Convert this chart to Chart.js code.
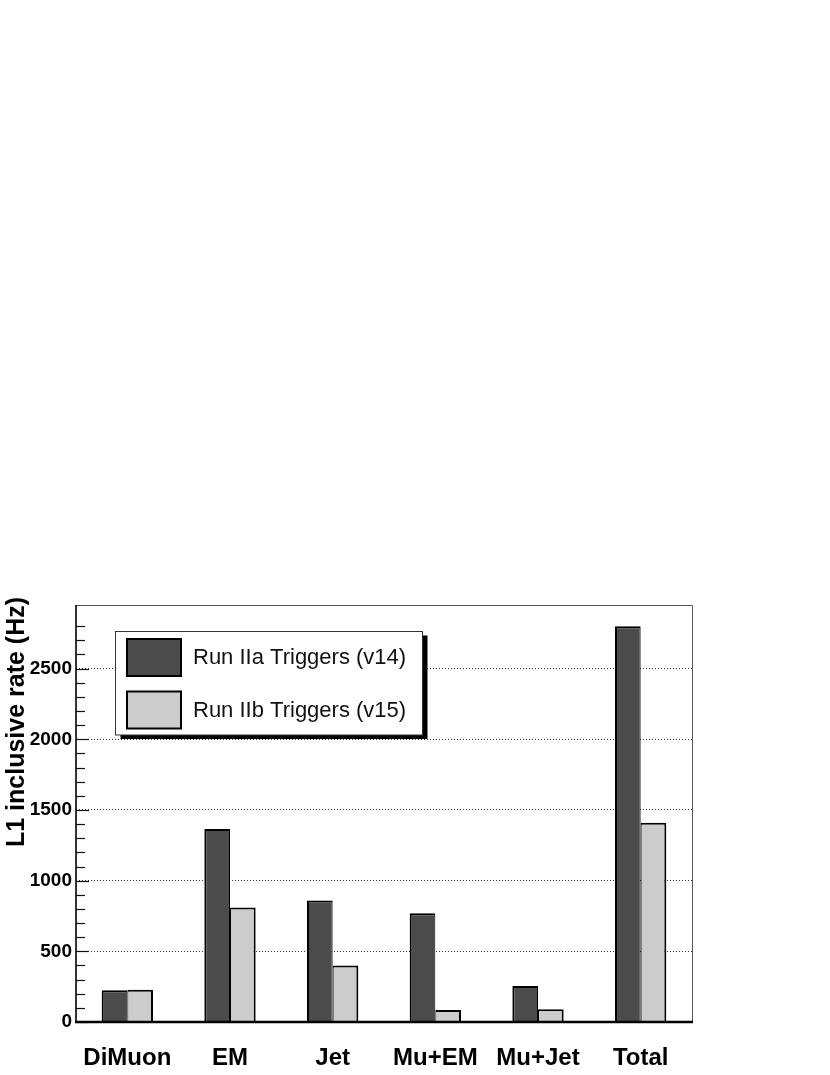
<!DOCTYPE html>
<html>
<head>
<meta charset="utf-8">
<script src="https://cdn.jsdelivr.net/npm/chart.js@4.4.1/dist/chart.umd.min.js"></script>
<style>
  html, body { margin: 0; padding: 0; background: #ffffff; }
  canvas { display: block; }
</style>
</head>
<body>
<canvas id="c" width="830" height="1075"></canvas>
<script>
// ---- data ----
const categories = ["DiMuon", "EM", "Jet", "Mu+EM", "Mu+Jet", "Total"];
const runIIa = [225, 1365, 860, 770, 255, 2800];
const runIIb = [228, 810, 400, 85, 90, 1410];
const seriesLabels = ["Run IIa Triggers (v14)", "Run IIb Triggers (v15)"];
const yTitle = "L1 inclusive rate (Hz)";
const yMax = 2950;
const yMajorStep = 500;
const yMinorStep = 100;

const FONT = '"Liberation Sans", Arial, Helvetica, sans-serif';

const framePlugin = {
  id: 'framePlugin',
  afterDatasetsDraw(chart) {
    const ctx = chart.ctx;
    const a = chart.chartArea;
    const ys = chart.scales.y;
    ctx.save();
    // inner minor / major ticks on left axis
    ctx.strokeStyle = '#111';
    ctx.lineWidth = 1.2;
    ys.ticks.forEach(t => {
      if (t.value % yMinorStep !== 0) return;
      const py = Math.round(ys.getPixelForValue(t.value)) + 0.5;
      const len = (t.value % yMajorStep === 0) ? 13 : 9;
      ctx.beginPath();
      ctx.moveTo(a.left, py);
      ctx.lineTo(a.left + len, py);
      ctx.stroke();
    });
    // frame
    ctx.strokeStyle = '#555';
    ctx.lineWidth = 1;
    ctx.beginPath();
    ctx.moveTo(a.left, a.top + 0.5);
    ctx.lineTo(a.right + 0.5, a.top + 0.5);
    ctx.lineTo(a.right + 0.5, a.bottom);
    ctx.stroke();
    ctx.strokeStyle = '#000';
    ctx.lineWidth = 1.6;
    ctx.beginPath();
    ctx.moveTo(a.left, a.top);
    ctx.lineTo(a.left, a.bottom);
    ctx.stroke();
    ctx.lineWidth = 2.4;
    ctx.beginPath();
    ctx.moveTo(a.left - 1, a.bottom);
    ctx.lineTo(a.right + 1, a.bottom);
    ctx.stroke();

    // legend box with shadow
    const lx = 115.5, ly = 631.5, lw = 307, lh = 103.5;
    ctx.fillStyle = '#000';
    ctx.fillRect(lx + 5, ly + 4, lw, lh);
    ctx.fillStyle = '#fff';
    ctx.fillRect(lx, ly, lw, lh);
    ctx.strokeStyle = '#333';
    ctx.lineWidth = 1;
    ctx.strokeRect(lx, ly, lw, lh);
    const rows = [657, 709.5];
    chart.data.datasets.forEach((ds, i) => {
      const cy = rows[i];
      ctx.fillStyle = ds.backgroundColor;
      ctx.fillRect(127, cy - 18, 54, 37);
      ctx.strokeStyle = '#000';
      ctx.lineWidth = 2;
      ctx.strokeRect(127, cy - 18, 54, 37);
      ctx.fillStyle = '#111';
      ctx.font = '22px ' + FONT;
      ctx.textBaseline = 'middle';
      ctx.textAlign = 'left';
      ctx.fillText(ds.label, 193, cy + 1);
    });

    // y axis title
    ctx.save();
    ctx.translate(17, 722);
    ctx.rotate(-Math.PI / 2);
    ctx.fillStyle = '#000';
    ctx.font = 'bold 25px ' + FONT;
    ctx.textAlign = 'center';
    ctx.textBaseline = 'middle';
    ctx.fillText(yTitle, 0, 0);
    ctx.restore();
    ctx.restore();
  }
};

new Chart(document.getElementById('c'), {
  type: 'bar',
  data: {
    labels: categories,
    datasets: [
      { label: seriesLabels[0], data: runIIa, backgroundColor: '#4b4b4b', borderColor: '#000',
        borderWidth: { top: 2, left: 2, right: 1, bottom: 0 }, borderSkipped: false },
      { label: seriesLabels[1], data: runIIb, backgroundColor: '#cccccc', borderColor: '#000',
        borderWidth: { top: 2, left: 1, right: 2, bottom: 0 }, borderSkipped: false }
    ]
  },
  options: {
    responsive: false,
    animation: false,
    layout: { padding: { left: 0, right: 138, top: 605, bottom: 0 } },
    plugins: { legend: { display: false }, tooltip: { enabled: false } },
    datasets: { bar: { categoryPercentage: 0.5, barPercentage: 1.0 } },
    scales: {
      x: {
        grid: { display: false, drawTicks: false },
        border: { display: false },
        ticks: { color: '#000', font: { family: FONT, size: 24, weight: 'bold' }, padding: 22, maxRotation: 0, autoSkip: false },
        afterFit(scale) { scale.height = 53; }
      },
      y: {
        min: 0,
        max: yMax,
        grid: {
          drawTicks: false,
          color: (c) => (c.tick && c.tick.value > 0 && c.tick.value % yMajorStep === 0) ? '#333' : 'rgba(0,0,0,0)',
          lineWidth: 1
        },
        border: { display: false, dash: [1, 2] },
        ticks: {
          stepSize: yMinorStep,
          autoSkip: false,
          padding: 4,
          color: '#000',
          font: { family: FONT, size: 19, weight: 'bold' },
          callback: (v) => (v % yMajorStep === 0) ? String(v) : ''
        },
        afterFit(scale) { scale.width = 76; }
      }
    }
  },
  plugins: [framePlugin]
});
</script>
</body>
</html>
